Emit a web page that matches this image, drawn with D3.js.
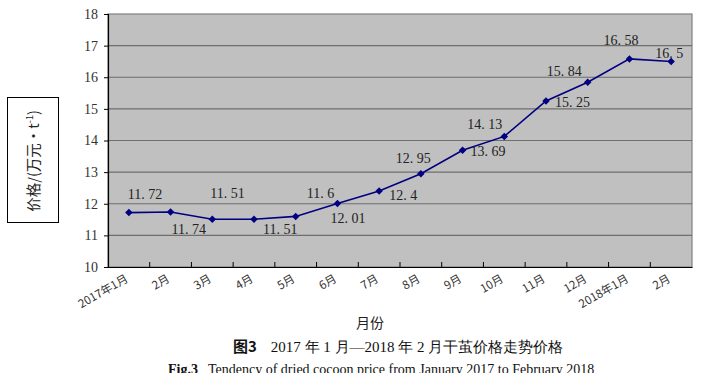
<!DOCTYPE html>
<html><head><meta charset="utf-8">
<script src="https://cdn.jsdelivr.net/npm/d3@7"></script>
<style>body{margin:0;background:#fff;}svg{display:block;}</style>
</head><body>
<script>
const months = ["2017年1月","2月","3月","4月","5月","6月","7月","8月","9月","10月","11月","12月","2018年1月","2月"];
const prices = [11.72,11.74,11.51,11.51,11.6,12.01,12.4,12.95,13.69,14.13,15.25,15.84,16.58,16.5];
const priceLabels = ["11. 72","11. 74","11. 51","11. 51","11. 6","12. 01","12. 4","12. 95","13. 69","14. 13","15. 25","15. 84","16. 58","16. 5"];
const yTicks = [10,11,12,13,14,15,16,17,18];
// label placement offsets (dx to label left edge, dy to label middle)
const labelDx = [-1,1,-2,9,11,-7,10,-25,8,-37,9,-41,-26,-16];
const labelDy = [-19,17,-26,10,-23,15,4,-16,1,-12,1,-11,-19,-8];

const W=702,H=373;
const m={l:108,r:692,t:14,b:267};
const svg=d3.select("body").append("svg").attr("width",W).attr("height",H);
const x=d3.scaleBand().domain(d3.range(months.length)).range([m.l,m.r]);
const y=d3.scaleLinear().domain([10,18]).range([m.b,m.t]);
const serif="'Liberation Serif','DejaVu Serif',serif";
const cjk="'Noto Sans CJK SC','Noto Sans CJK JP',sans-serif";

svg.append("rect").attr("x",m.l).attr("y",m.t).attr("width",m.r-m.l).attr("height",m.b-m.t)
  .attr("fill","#c0c0c0").attr("stroke","#808080").attr("stroke-width",1.2);

// gridlines
svg.append("g").selectAll("line").data(yTicks.filter(d=>d>10&&d<18)).join("line")
  .attr("x1",m.l).attr("x2",m.r).attr("y1",d=>y(d)).attr("y2",d=>y(d))
  .attr("stroke","#6e6e6e").attr("stroke-width",1.2);

// y axis
const ya=svg.append("g").attr("transform",`translate(${m.l},0)`)
  .call(d3.axisLeft(y).tickValues(yTicks).tickSize(4).tickPadding(6).tickFormat(d3.format("d")));
ya.select(".domain").attr("stroke","#000").attr("stroke-width",1.2);
ya.selectAll("line").attr("stroke","#000");
ya.selectAll("text").attr("font-family",serif).attr("font-size",14).attr("fill","#333");

// x axis
const xa=svg.append("g").attr("transform",`translate(0,${m.b})`)
  .call(d3.axisBottom(x).tickSize(0).tickFormat(()=>""));
xa.select(".domain").attr("stroke","#000").attr("stroke-width",1.2);
svg.append("g").selectAll("line").data(d3.range(1,months.length)).join("line")
  .attr("x1",i=>x(i)).attr("x2",i=>x(i)).attr("y1",m.b).attr("y2",m.b-5).attr("stroke","#000");
svg.append("g").selectAll("text").data(months).join("text")
  .attr("transform",(d,i)=>`translate(${x(i)+x.bandwidth()/2},${m.b+14}) rotate(-30)`)
  .attr("text-anchor","end").attr("font-family",cjk).attr("font-size",11.5).attr("fill","#333")
  .text(d=>d);

// line
const line=d3.line().x((d,i)=>x(i)+x.bandwidth()/2).y(d=>y(d));
svg.append("path").datum(prices).attr("d",line).attr("fill","none")
  .attr("stroke","#000080").attr("stroke-width",1.6);
svg.append("g").selectAll("path").data(prices).join("path")
  .attr("d",d3.symbol(d3.symbolDiamond2,36))
  .attr("transform",(d,i)=>`translate(${x(i)+x.bandwidth()/2},${y(d)})`)
  .attr("fill","#000080");

// data labels
svg.append("g").selectAll("text").data(prices).join("text")
  .attr("x",(d,i)=>x(i)+x.bandwidth()/2+labelDx[i])
  .attr("y",(d,i)=>y(d)+labelDy[i]).attr("dy","0.35em")
  .attr("font-family",serif).attr("font-size",14).attr("fill","#222")
  .text((d,i)=>priceLabels[i]);

// y label box
svg.append("rect").attr("x",7.5).attr("y",97.5).attr("width",51).attr("height",125)
  .attr("fill","#fff").attr("stroke","#000").attr("stroke-width",1);
const yl=svg.append("text").attr("transform","translate(39,161) rotate(-90)")
  .attr("text-anchor","middle").attr("font-family",cjk).attr("font-size",14.5).attr("fill","#222");
yl.append("tspan").text("价格/(万元・t");
yl.append("tspan").attr("font-size",9).attr("dy",-6).text("-1");
yl.append("tspan").attr("dy",6).text(")");

// x title
svg.append("text").attr("x",370).attr("y",328).attr("text-anchor","middle")
  .attr("font-family",cjk).attr("font-size",14).attr("fill","#222").text("月份");

// captions
const cap=svg.append("text").attr("x",233).attr("y",352).attr("font-family",cjk).attr("font-size",15).attr("fill","#111");
cap.append("tspan").attr("font-weight","bold").text("图3");
cap.append("tspan").attr("dx",14).attr("font-family",serif).text("2017 年 1 月—2018 年 2 月干茧价格走势价格");
const cap2=svg.append("text").attr("x",168).attr("y",374).attr("font-family",serif).attr("font-size",14).attr("fill","#111");
cap2.append("tspan").attr("font-weight","bold").text("Fig.3");
cap2.append("tspan").attr("dx",10).text("Tendency of dried cocoon price from January 2017 to February 2018");
</script>
</body></html>
